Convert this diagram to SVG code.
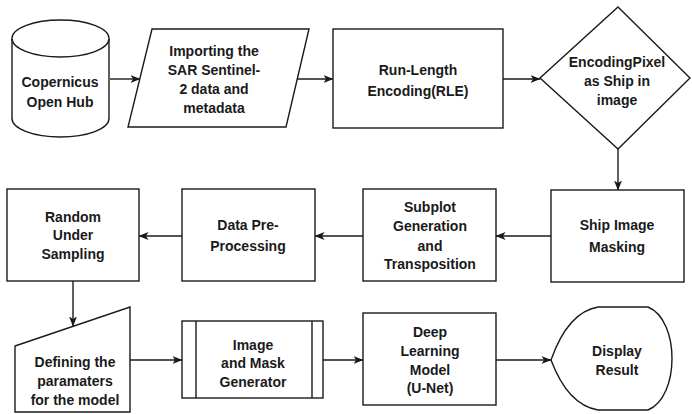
<svg xmlns="http://www.w3.org/2000/svg" width="692" height="414" viewBox="0 0 692 414">
  <style>
    .shape { fill: #ffffff; stroke: #1a1a1a; stroke-width: 1.4; }
    .edge { fill: none; stroke: #1a1a1a; stroke-width: 1.4; }
    text { font-family: "Liberation Sans", Arial, sans-serif; font-size: 14px; font-weight: bold; fill: #1a1a1a; text-anchor: middle; }
  </style>
  <defs>
    <marker id="arrow" viewBox="0 0 10 10" refX="9.5" refY="5" markerWidth="10" markerHeight="10" markerUnits="userSpaceOnUse" orient="auto">
      <path d="M0,1 L10,5 L0,9 L2.5,5 Z" fill="#1a1a1a"/>
    </marker>
  </defs>
  <rect width="692" height="414" fill="#ffffff"/>

  <!-- connectors -->
  <g id="connectors">
    <line class="edge" x1="110" y1="79" x2="140" y2="79" marker-end="url(#arrow)"/>
    <line class="edge" x1="297" y1="79" x2="333" y2="79" marker-end="url(#arrow)"/>
    <line class="edge" x1="503" y1="79" x2="540" y2="79" marker-end="url(#arrow)"/>
    <line class="edge" x1="618" y1="149" x2="618" y2="190" marker-end="url(#arrow)"/>
    <line class="edge" x1="551" y1="236" x2="496" y2="236" marker-end="url(#arrow)"/>
    <line class="edge" x1="363" y1="236" x2="315" y2="236" marker-end="url(#arrow)"/>
    <line class="edge" x1="182" y1="236" x2="139" y2="236" marker-end="url(#arrow)"/>
    <line class="edge" x1="73" y1="281" x2="73" y2="326" marker-end="url(#arrow)"/>
    <line class="edge" x1="130" y1="360" x2="182" y2="360" marker-end="url(#arrow)"/>
    <line class="edge" x1="323" y1="360" x2="363" y2="360" marker-end="url(#arrow)"/>
    <line class="edge" x1="496" y1="360" x2="551" y2="360" marker-end="url(#arrow)"/>
  </g>

  <!-- data source cylinder -->
  <g id="copernicus">
    <path class="shape" d="M12,38.5 A48.5,18.5 0 0 1 109,38.5 L109,118.5 A48.5,18.5 0 0 1 12,118.5 Z"/>
    <path class="shape" d="M12,38.5 A48.5,18.5 0 0 0 109,38.5" fill="none"/>
    <text x="60" y="87">Copernicus</text>
    <text x="60" y="107">Open Hub</text>
  </g>

  <g id="importing">
    <polygon class="shape" points="152,29 309,29 286,127 128,127"/>
    <text x="214" y="56">Importing the</text>
    <text x="214" y="75">SAR Sentinel-</text>
    <text x="214" y="94">2 data and</text>
    <text x="214" y="113">metadata</text>
  </g>

  <g id="rle">
    <rect class="shape" x="333" y="29" width="170" height="99"/>
    <text x="418" y="75">Run-Length</text>
    <text x="418" y="96">Encoding(RLE)</text>
  </g>

  <g id="encoding-pixel">
    <polygon class="shape" points="618,7 690,78 618,149 540,78"/>
    <text x="617" y="67">EncodingPixel</text>
    <text x="617" y="86">as Ship in</text>
    <text x="617" y="105">image</text>
  </g>

  <g id="ship-masking">
    <rect class="shape" x="551" y="190" width="133" height="92"/>
    <text x="617" y="230">Ship Image</text>
    <text x="617" y="252">Masking</text>
  </g>

  <g id="subplot">
    <rect class="shape" x="363" y="189" width="133" height="92"/>
    <text x="430" y="212">Subplot</text>
    <text x="430" y="231">Generation</text>
    <text x="430" y="251">and</text>
    <text x="430" y="269">Transposition</text>
  </g>

  <g id="preprocessing">
    <rect class="shape" x="182" y="189" width="133" height="92"/>
    <text x="248" y="230">Data Pre-</text>
    <text x="248" y="251">Processing</text>
  </g>

  <g id="undersampling">
    <rect class="shape" x="7" y="189" width="132" height="92"/>
    <text x="73" y="222">Random</text>
    <text x="73" y="240">Under</text>
    <text x="73" y="259">Sampling</text>
  </g>

  <g id="parameters">
    <polygon class="shape" points="15,346 130,307 130,412 15,412"/>
    <text x="75" y="367">Defining the</text>
    <text x="75" y="386">paramaters</text>
    <text x="75" y="405">for the model</text>
  </g>

  <g id="generator">
    <rect class="shape" x="182" y="321" width="141" height="77"/>
    <line class="edge" x1="196" y1="321" x2="196" y2="398"/>
    <line class="edge" x1="312" y1="321" x2="312" y2="398"/>
    <text x="253" y="350">Image</text>
    <text x="253" y="368">and Mask</text>
    <text x="253" y="387">Generator</text>
  </g>

  <g id="unet">
    <rect class="shape" x="363" y="313" width="133" height="92"/>
    <text x="430" y="337">Deep</text>
    <text x="430" y="356">Learning</text>
    <text x="430" y="375">Model</text>
    <text x="430" y="393">(U-Net)</text>
  </g>

  <g id="display">
    <path class="shape" d="M551,360 Q568,312 598,307 L648,307 C680,320 680,397 648,410 L598,410 Q568,405 551,360 Z"/>
    <text x="617" y="356">Display</text>
    <text x="617" y="375">Result</text>
  </g>
</svg>
